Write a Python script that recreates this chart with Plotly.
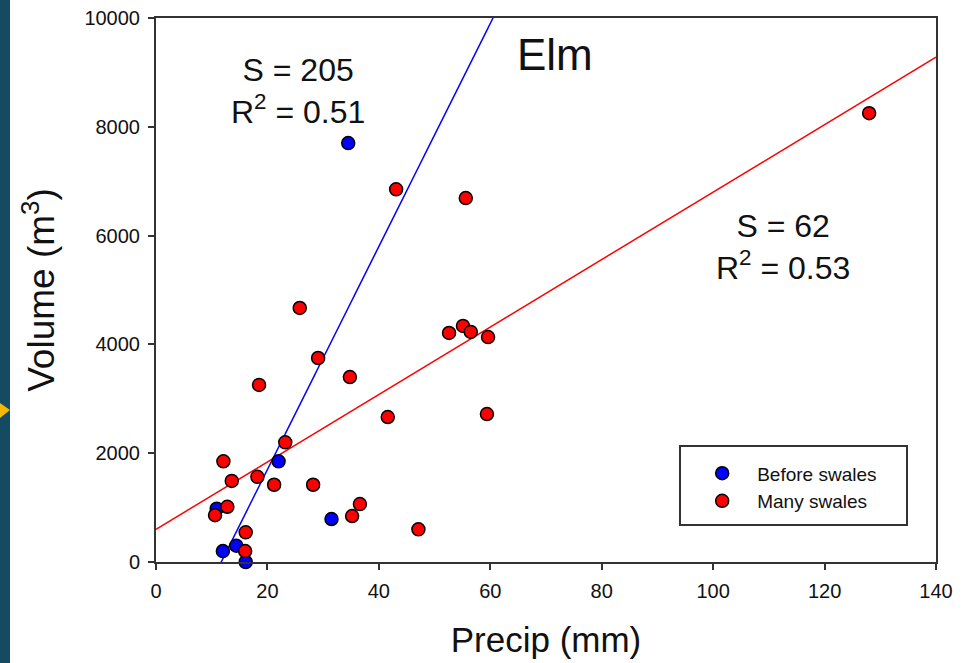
import plotly.graph_objects as go

# ---- data ----
before_precip = [34.5, 22.0, 31.5, 12.0, 14.4, 16.1, 10.9]
before_volume = [7700, 1850, 790, 200, 300, 0, 980]

many_precip = [128.0, 43.1, 55.6, 25.8, 52.6, 55.1, 56.5, 59.6, 29.1, 34.8,
               18.5, 41.6, 59.4, 23.2, 12.1, 13.6, 18.2, 21.2, 28.2, 12.8,
               10.6, 36.6, 35.2, 16.1, 16.0, 47.1]
many_volume = [8250, 6850, 6690, 4670, 4210, 4340, 4230, 4135, 3750, 3400,
               3255, 2665, 2720, 2200, 1850, 1490, 1565, 1420, 1420, 1015,
               860, 1065, 845, 545, 200, 600]

fit_x = [0, 140]
before_slope, before_intercept = 205, -2400
many_slope, many_intercept = 62, 600

x_ticks = [0, 20, 40, 60, 80, 100, 120, 140]
y_ticks = [0, 2000, 4000, 6000, 8000, 10000]
y_tick_labels = ["0", "2000", "4000", "6000", "8000", "10000"]

FONT = "Arial, Liberation Sans, sans-serif"

fig = go.Figure()

fig.add_trace(go.Scatter(
    x=fit_x, y=[before_slope * v + before_intercept for v in fit_x],
    mode="lines", line=dict(color="#0000FF", width=1.5),
    showlegend=False, hoverinfo="skip"))
fig.add_trace(go.Scatter(
    x=fit_x, y=[many_slope * v + many_intercept for v in fit_x],
    mode="lines", line=dict(color="#FF0000", width=1.5),
    showlegend=False, hoverinfo="skip"))

fig.add_trace(go.Scatter(
    x=before_precip, y=before_volume, mode="markers", name="Before swales",
    marker=dict(color="#0000FF", size=13, line=dict(color="black", width=1.5)),
    cliponaxis=False))
fig.add_trace(go.Scatter(
    x=many_precip, y=many_volume, mode="markers", name="Many swales",
    marker=dict(color="#FF0000", size=13, line=dict(color="black", width=1.5)),
    cliponaxis=False))

axis_common = dict(
    showgrid=False, zeroline=False, showline=True, linecolor="#333333",
    linewidth=2, mirror=True, ticks="outside", ticklen=6, tickwidth=1.5,
    tickcolor="#333333", tickfont=dict(family=FONT, size=20, color="#111111"),
    ticklabelstandoff=4, automargin=False,
)

fig.update_layout(
    width=974, height=663,
    margin=dict(l=156, r=38, t=18, b=101),
    paper_bgcolor="white", plot_bgcolor="white",
    font=dict(family=FONT, color="#111111"),
    xaxis=dict(range=[0, 140], tickvals=x_ticks,
               title=dict(text="Precip (mm)", font=dict(family=FONT, size=35), standoff=26),
               **axis_common),
    yaxis=dict(range=[0, 10000], tickvals=y_ticks, ticktext=y_tick_labels,
               title=dict(text="Volume (m<sup>3</sup>)", font=dict(family=FONT, size=37), standoff=18),
               **axis_common),
    legend=dict(x=0.681, y=0.198, xanchor="left", yanchor="top",
                bgcolor="rgba(0,0,0,0)", borderwidth=0,
                font=dict(family=FONT, size=19, color="#111111"),
                itemwidth=60, tracegroupgap=0),
    showlegend=True,
)

# legend frame
fig.add_shape(type="rect", xref="paper", yref="paper",
              x0=(680 - 156) / 780, x1=(907 - 156) / 780,
              y0=(562 - 525) / 544, y1=(562 - 446) / 544,
              line=dict(color="#333333", width=2), fillcolor="rgba(0,0,0,0)")

# left decorative strip and arrow
fig.add_shape(type="rect", xref="paper", yref="paper",
              x0=-156 / 780, x1=-146 / 780, y0=-101 / 544, y1=(562) / 544 + 0.04,
              line=dict(width=0), fillcolor="#154A63", layer="below")
fig.add_shape(type="path", xref="paper", yref="paper",
              path=f"M {-156/780} {(562-403)/544} L {-146/780} {(562-410)/544} L {-156/780} {(562-418)/544} Z",
              line=dict(width=0), fillcolor="#F5B800")

fig.add_annotation(x=25.5, y=8660, text="S = 205<br>R<sup>2</sup> = 0.51",
                   showarrow=False, font=dict(family=FONT, size=32, color="#111111"))
fig.add_annotation(x=112.6, y=5790, text="S = 62<br>R<sup>2</sup> = 0.53",
                   showarrow=False, font=dict(family=FONT, size=32, color="#111111"))
fig.add_annotation(x=71.6, y=9330, text="Elm",
                   showarrow=False, font=dict(family=FONT, size=44, color="#111111"))

fig.write_html("out.html", config={"displayModeBar": False},
               post_script="document.body.style.margin='0';")
